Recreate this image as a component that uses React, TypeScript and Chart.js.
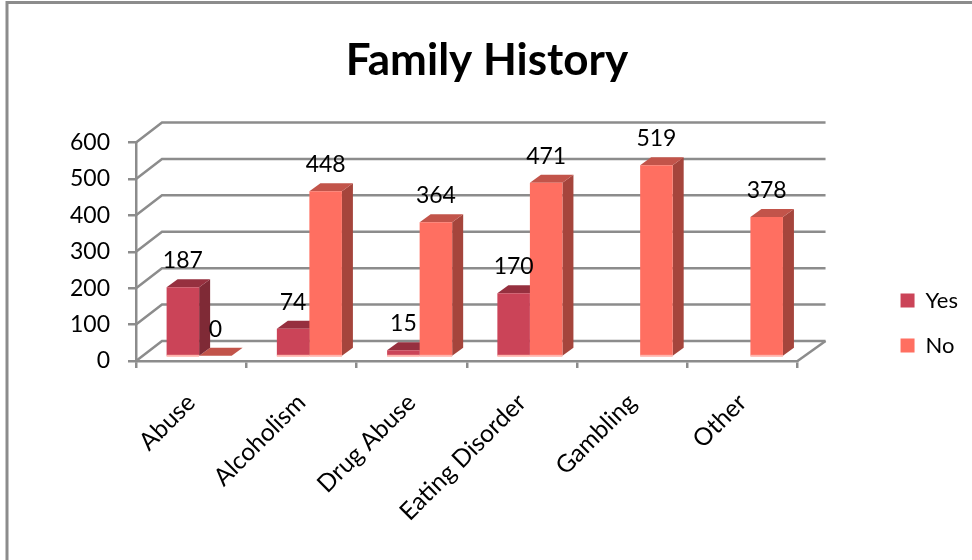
import React, { useEffect, useRef } from "react";
import { Chart, registerables } from "chart.js";

Chart.register(...registerables);

const categories = ["Abuse", "Alcoholism", "Drug Abuse", "Eating Disorder", "Gambling", "Other"];
const yesValues = [187, 74, 15, 170, 0, 0];
const noValues = [0, 448, 364, 471, 519, 378];
const yesShownLabels = [true, true, true, true, false, false];
const noShownLabels = [true, true, true, true, true, true];

const FONT = "Lato, Calibri, sans-serif";
const GREY = "#8c8c8c";
const WALL = { dx: 26, dy: -20 };
const BAR = { dx: 8, dy: -5.2, sideX: 11, sideY: 8 };

const faces = [
  { top: "#96303F", side: "#7F2A36" },
  { top: "#C2544A", side: "#A5453C" },
];

const threeD = {
  id: "threeD",
  beforeDraw(chart: any) {
    const { ctx, width, height } = chart;
    ctx.save();
    ctx.strokeStyle = GREY;
    ctx.lineWidth = 3;
    ctx.beginPath();
    ctx.moveTo(7, height);
    ctx.lineTo(7, 2.5);
    ctx.lineTo(width, 2.5);
    ctx.stroke();
    ctx.restore();
  },
  beforeDatasetsDraw(chart: any) {
    const { ctx, chartArea: a } = chart;
    const y = chart.scales.y;
    ctx.save();
    ctx.strokeStyle = GREY;
    ctx.lineWidth = 2.5;
    y.ticks.forEach((t: any) => {
      const py = y.getPixelForValue(t.value);
      ctx.beginPath();
      ctx.moveTo(a.left, py);
      ctx.lineTo(a.left + WALL.dx, py + WALL.dy);
      ctx.lineTo(a.right + WALL.dx + 2, py + WALL.dy);
      ctx.stroke();
    });
    ctx.beginPath();
    ctx.moveTo(a.right, a.bottom);
    ctx.lineTo(a.right + WALL.dx + 2, a.bottom + WALL.dy);
    ctx.stroke();
    ctx.restore();

    ctx.save();
    ctx.translate(BAR.dx, BAR.dy);
    [1, 0].forEach((di) => {
      chart.getDatasetMeta(di).data.forEach((bar: any) => {
        const p = bar.getProps(["x", "y", "base", "width"], true);
        if (di === 0 && p.y === p.base) return;
        const l = p.x - p.width / 2;
        const r = p.x + p.width / 2;
        ctx.fillStyle = faces[di].side;
        ctx.beginPath();
        ctx.moveTo(r, p.y);
        ctx.lineTo(r + BAR.sideX, p.y - BAR.sideY);
        ctx.lineTo(r + BAR.sideX, p.base - BAR.sideY);
        ctx.lineTo(r, p.base);
        ctx.closePath();
        ctx.fill();
        ctx.fillStyle = faces[di].top;
        ctx.beginPath();
        ctx.moveTo(l, p.y);
        ctx.lineTo(l + BAR.sideX, p.y - BAR.sideY);
        ctx.lineTo(r + BAR.sideX, p.y - BAR.sideY);
        ctx.lineTo(r, p.y);
        ctx.closePath();
        ctx.fill();
      });
    });
  },
  afterDatasetsDraw(chart: any) {
    const { ctx } = chart;
    const shown = [yesShownLabels, noShownLabels];
    [0, 1].forEach((di) => {
      chart.getDatasetMeta(di).data.forEach((bar: any) => {
        const p = bar.getProps(["x", "y", "base", "width"], true);
        if (p.y !== p.base) {
          ctx.fillStyle = "#FFB4AC";
          ctx.fillRect(p.x - p.width / 2, p.base - 1, p.width, 2);
        }
      });
    });
    ctx.restore();
    ctx.save();
    ctx.font = `23px ${FONT}`;
    ctx.fillStyle = "#000";
    ctx.textAlign = "center";
    ctx.textBaseline = "alphabetic";
    [0, 1].forEach((di) => {
      chart.getDatasetMeta(di).data.forEach((bar: any, i: number) => {
        if (!shown[di][i]) return;
        const p = bar.getProps(["x", "y"], true);
        const v = chart.data.datasets[di].data[i];
        ctx.fillText(String(v), p.x + BAR.dx, p.y + BAR.dy - 19);
      });
    });
    ctx.restore();
  },
};

export default function App() {
  const ref = useRef<HTMLCanvasElement>(null);
  useEffect(() => {
    const chart = new Chart(ref.current as HTMLCanvasElement, {
      type: "bar",
      data: {
        labels: categories,
        datasets: [
          { label: "Yes", data: yesValues, backgroundColor: "#CB4458", yAxisID: "y1", categoryPercentage: 0.59, barPercentage: 1 },
          { label: "No", data: noValues, backgroundColor: "#FF6F61", yAxisID: "y1", categoryPercentage: 0.59, barPercentage: 1 },
        ],
      },
      options: {
        responsive: false,
        animation: false,
        layout: { padding: { left: 6, right: 4, top: 0, bottom: -86 } },
        plugins: {
          tooltip: { enabled: false },
          title: {
            display: true,
            text: "Family History",
            color: "#000",
            font: { family: FONT, size: 44, weight: "bold" },
            padding: { top: 34, bottom: 55.7 },
          },
          legend: {
            position: "right",
            labels: {
              color: "#000",
              font: { family: FONT, size: 22 },
              boxWidth: 14,
              boxHeight: 14,
              padding: 23,
            },
          },
        },
        scales: {
          x: {
            grid: { drawOnChartArea: false, drawTicks: true, offset: true, tickLength: 7, color: GREY, lineWidth: 2.5 },
            border: { color: GREY, width: 2.5 },
            ticks: { color: "#000", font: { family: FONT, size: 24.5 }, minRotation: 45, maxRotation: 45, padding: 20 },
            afterFit(s: any) {
              s.height = 285;
            },
          },
          y: {
            min: 0,
            max: 600,
            grid: { drawOnChartArea: false, drawTicks: true, tickLength: 8, color: GREY, lineWidth: 2.5 },
            border: { color: GREY, width: 2.5 },
            ticks: { stepSize: 100, color: "#000", font: { family: FONT, size: 23 }, padding: 18 },
            afterFit(s: any) {
              s.width = 130;
            },
          },
          y1: {
            position: "right",
            min: 0,
            max: 595,
            grid: { display: false },
            border: { display: false },
            ticks: { display: false },
            afterFit(s: any) {
              s.width = 80;
            },
          },
        },
      },
      plugins: [threeD],
    } as any);
    return () => chart.destroy();
  }, []);
  return (
    <canvas
      ref={ref}
      width={972}
      height={560}
      style={{ position: "absolute", left: 0, top: 0, width: 972, height: 560, display: "block" }}
    />
  );
}
